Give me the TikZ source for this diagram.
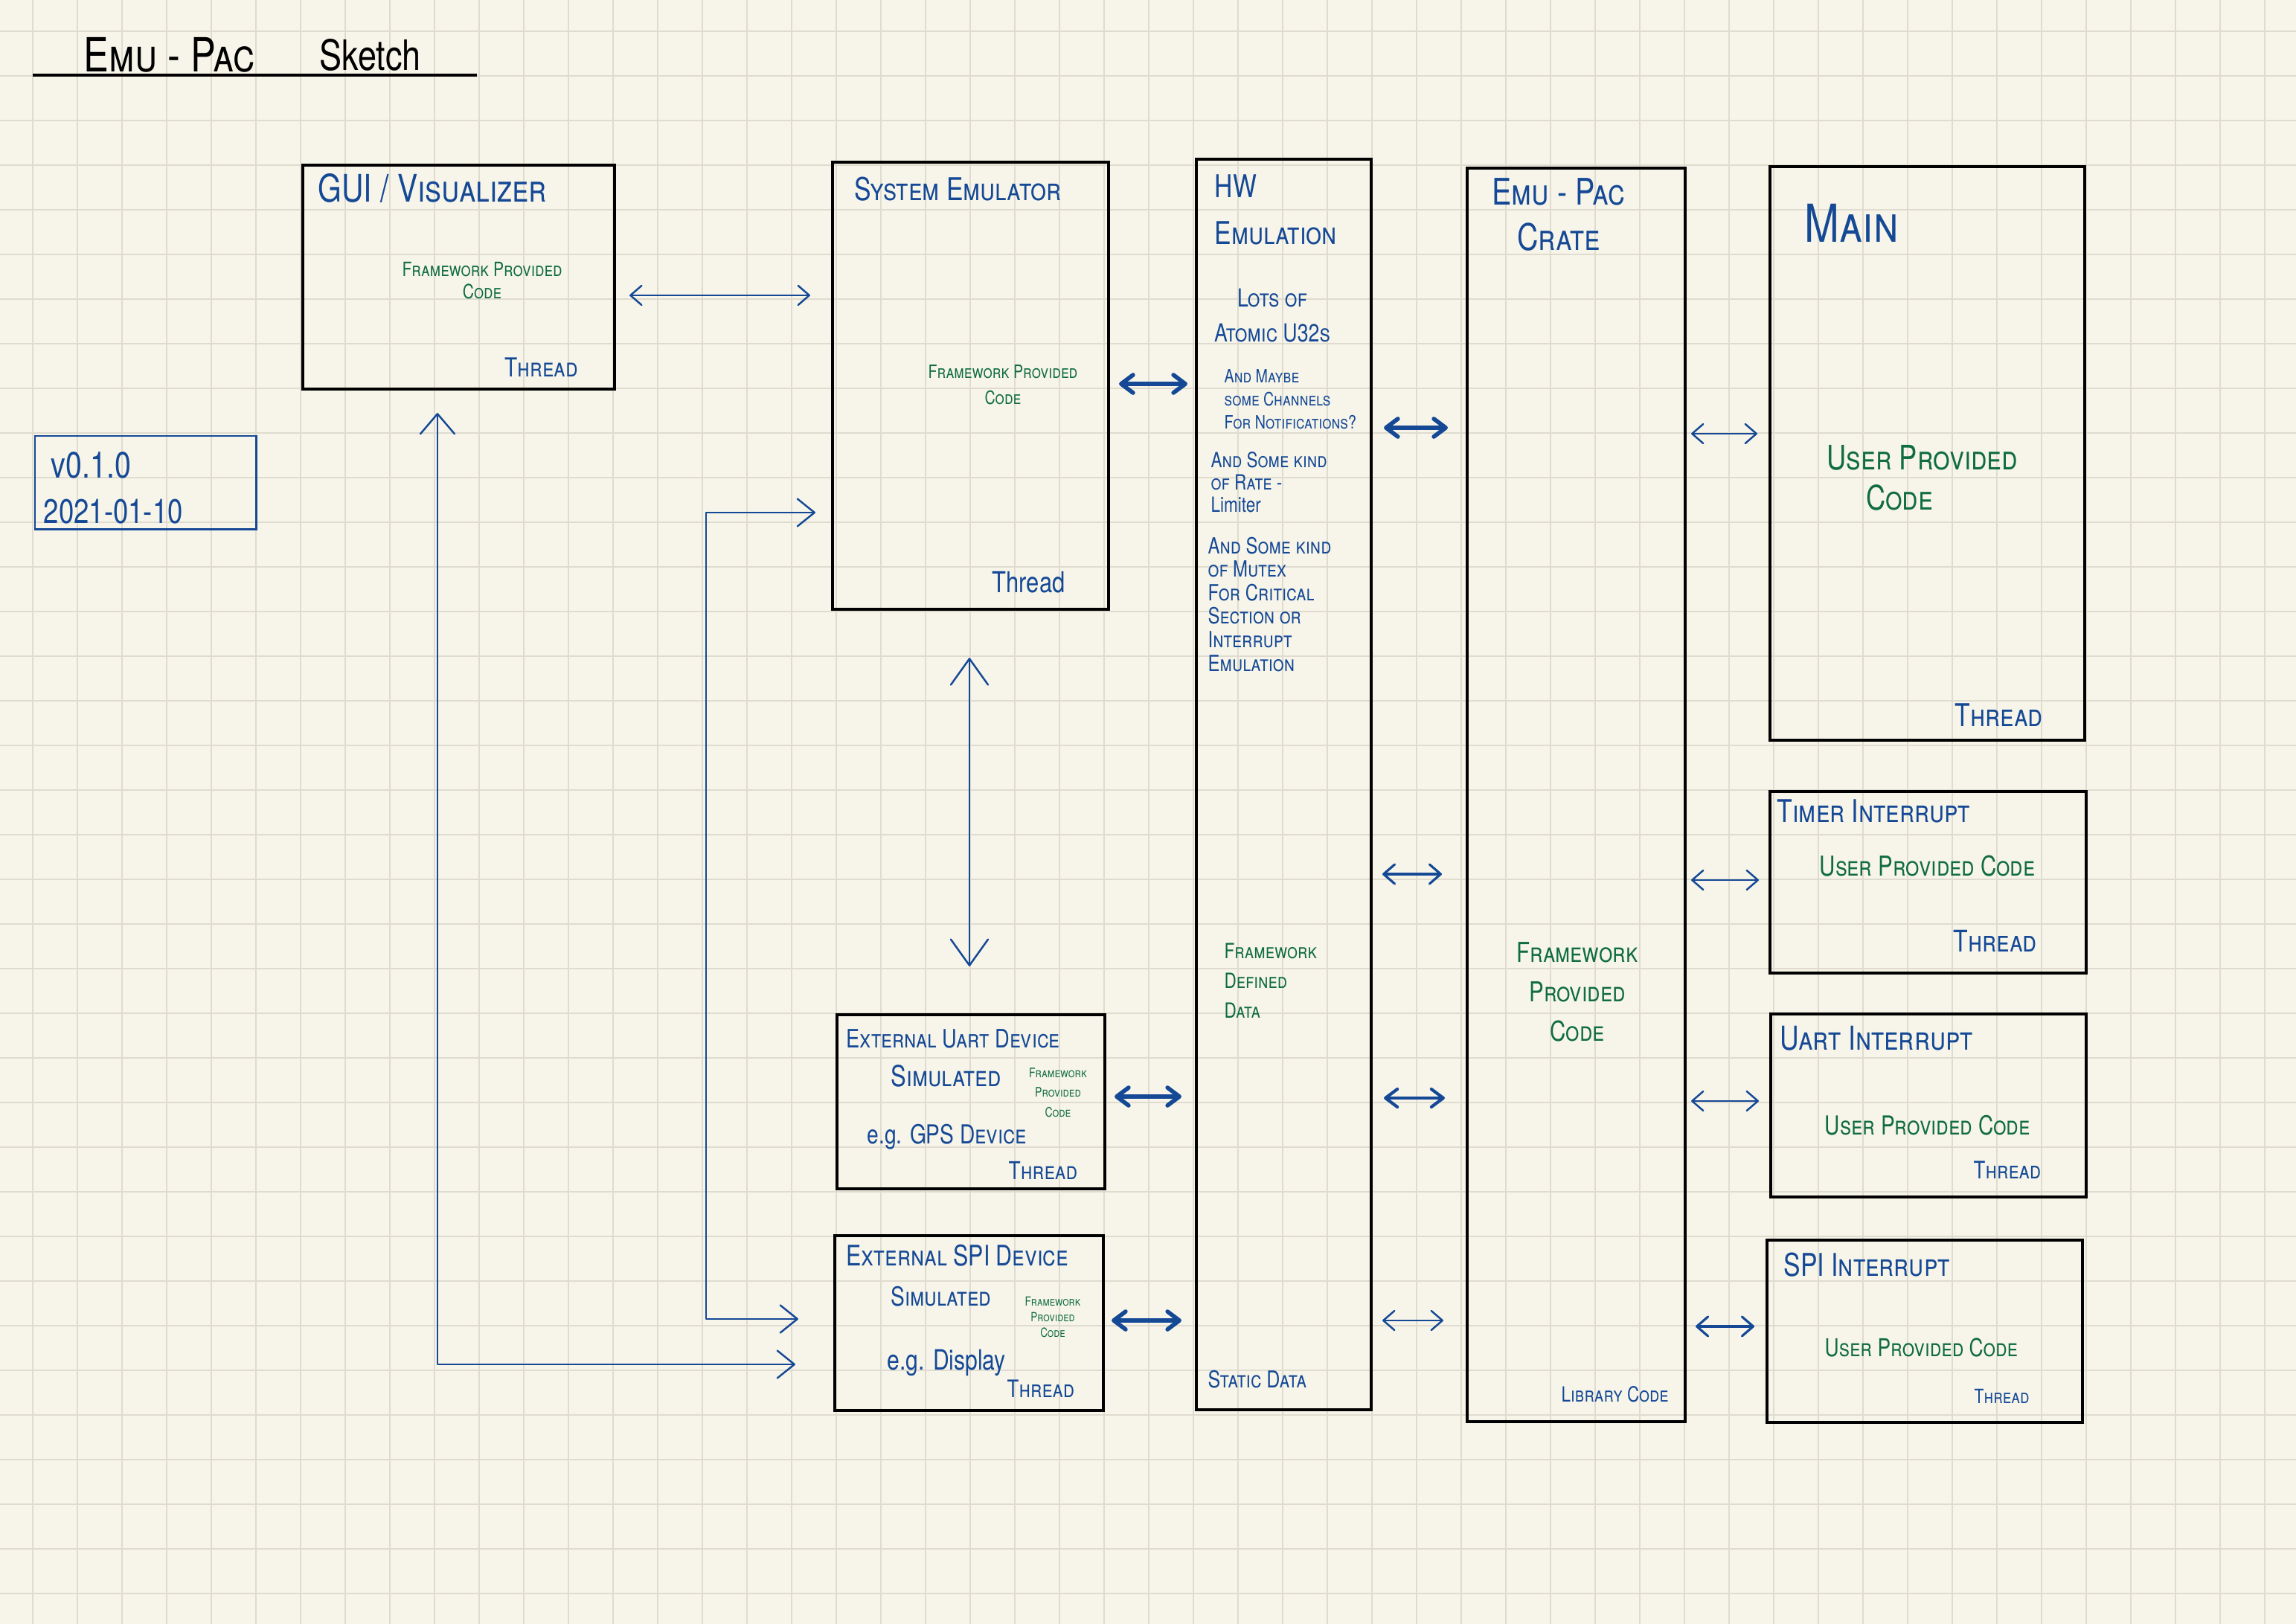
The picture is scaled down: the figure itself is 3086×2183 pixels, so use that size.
\documentclass[tikz,border=0pt]{standalone}
\usepackage{fontspec}
\newfontfamily\handfont{TeX Gyre Heros}[FakeStretch=0.8]
\usetikzlibrary{arrows.meta}
\definecolor{paper}{RGB}{247,245,233}
\definecolor{gridline}{RGB}{223,220,207}
\definecolor{inkblue}{RGB}{21,73,150}
\definecolor{inkgreen}{RGB}{16,108,66}
\newcommand{\inkfont}[2]{\handfont\scshape\fontsize{#1}{#2}\selectfont}
\newcommand{\plainink}[2]{\handfont\fontsize{#1}{#2}\selectfont}

\begin{document}
\begin{tikzpicture}[
    x=0.01cm, y=-0.01cm,
    box/.style={draw=black, line width=1.1pt, anchor=north west, inner sep=0pt},
    ink/.style={text=inkblue, anchor=north west, inner sep=0pt, align=left},
    fw/.style={text=inkgreen, anchor=north, inner sep=0pt, align=center},
    link/.style={draw=inkblue, line width=0.7pt, line cap=round, line join=round,
                 {Straight Barb[round, length=1.5mm, width=2.6mm]}-{Straight Barb[round, length=1.5mm, width=2.6mm]}},
    heavy/.style={link, line width=1.6pt,
                 {Straight Barb[round, length=1.6mm, width=2.4mm]}-{Straight Barb[round, length=1.6mm, width=2.4mm]}},
  ]
  % paper
  \useasboundingbox (0,0) rectangle (3086,2183);
  \fill[paper] (0,0) rectangle (3086,2183);
  \foreach \gx in {44,104,...,3044}
    \draw[gridline, line width=0.5pt] (\gx,0) -- (\gx,2183);
  \foreach \gy in {42,102,...,2142}
    \draw[gridline, line width=0.5pt] (0,\gy) -- (3086,\gy);

  % title and version
  \node[ink, text=black, font=\inkfont{18}{20}] (title) at (112,50) {Emu - Pac};
  \node[ink, text=black, font=\plainink{16}{20}] (sketch) at (429,52) {Sketch};
  \draw[black, line width=0.9pt] (44,101) -- (641,101);
  \node[box, draw=inkblue, line width=0.7pt, minimum width=2.97cm, minimum height=1.25cm] (version) at (46,585) {};
  \node[ink, font=\plainink{14}{17}] (vernum) at (68,607) {v0.1.0};
  \node[ink, font=\plainink{13}{16}] (verdate) at (58,670) {2021-01-10};

  % boxes
  \node[box, minimum width=4.19cm, minimum height=3.01cm] (gui) at (405,220) {};
  \node[box, minimum width=3.71cm, minimum height=6.01cm] (sysemu) at (1117,216) {};
  \node[box, minimum width=2.35cm, minimum height=16.8cm] (hw) at (1606,212) {};
  \node[box, minimum width=2.93cm, minimum height=16.84cm] (crate) at (1970,224) {};
  \node[box, minimum width=4.23cm, minimum height=7.71cm] (main) at (2377,222) {};
  \node[box, minimum width=4.25cm, minimum height=2.44cm] (timer) at (2377,1062) {};
  \node[box, minimum width=4.24cm, minimum height=2.46cm] (uart) at (2378,1361) {};
  \node[box, minimum width=4.24cm, minimum height=2.45cm] (spiint) at (2373,1665) {};
  \node[box, minimum width=3.60cm, minimum height=2.34cm] (extuart) at (1123,1362) {};
  \node[box, minimum width=3.61cm, minimum height=2.35cm] (extspi) at (1120,1659) {};

  % GUI
  \node[ink, font=\inkfont{14.5}{17}] (guiname) at (427,233) {GUI / Visualizer};
  \node[fw, font=\inkfont{7.5}{8.3}] (guifw) at (648,352) {Framework Provided\\Code};
  \node[ink, font=\inkfont{10}{12}] (guithr) at (678,480) {Thread};

  % system emulator
  \node[ink, font=\inkfont{12}{14}] (semname) at (1148,237) {System Emulator};
  \node[fw, font=\inkfont{7}{10}] (semfw) at (1348,490) {Framework Provided\\Code};
  \node[ink, font=\plainink{11}{13}] (semthr) at (1333,768) {Thread};

  % HW emulation
  \node[ink, font=\inkfont{12}{18}] (hwname) at (1632,234) {HW\\Emulation};
  \node[fw, text=inkblue, font=\inkfont{9.5}{13.4}] (hwatom) at (1710,387) {Lots of\\Atomic U32s};
  \node[ink, font=\inkfont{7}{8.8}] (hwchan) at (1645,496) {And Maybe\\some Channels\\For Notifications?};
  \node[ink, font=\inkfont{8}{8.5}] (hwrate) at (1627,607) {And Some kind\\of Rate -\\{\upshape Limiter}};
  \node[ink, font=\inkfont{8.5}{9}] (hwmutex) at (1623,721) {And Some kind\\of Mutex\\For Critical\\Section or\\Interrupt\\Emulation};
  \node[ink, text=inkgreen, font=\inkfont{8}{11.4}] (hwdata) at (1645,1267) {Framework\\Defined\\Data};
  \node[ink, font=\inkfont{8.9}{10}] (hwstatic) at (1623,1841) {Static Data};

  % emu-pac crate
  \node[fw, text=inkblue, font=\inkfont{14}{17.4}] (cratename) at (2095,239) {Emu - Pac\\Crate};
  \node[fw, font=\inkfont{10.5}{15}] (cratefw) at (2120,1266) {Framework\\Provided\\Code};
  \node[ink, font=\inkfont{8}{10}] (cratelib) at (2098,1863) {Library Code};

  % main and interrupts
  \node[ink, font=\inkfont{20}{24}] (mainname) at (2425,274) {Main};
  \node[ink, text=inkgreen, font=\inkfont{12.9}{15.4}] (mainuser) at (2455,598) {User Provided\\\hspace*{15pt}Code};
  \node[ink, font=\inkfont{12}{14}] (mainthr) at (2627,945) {Thread};
  \node[ink, font=\inkfont{12}{14}] (timername) at (2388,1074) {Timer Interrupt};
  \node[ink, text=inkgreen, font=\inkfont{10.5}{12}] (timeruser) at (2445,1149) {User Provided Code};
  \node[ink, font=\inkfont{11.4}{13}] (timerthr) at (2625,1250) {Thread};
  \node[ink, font=\inkfont{12.6}{14}] (uartname) at (2392,1379) {Uart Interrupt};
  \node[ink, text=inkgreen, font=\inkfont{10}{12}] (uartuser) at (2452,1499) {User Provided Code};
  \node[ink, font=\inkfont{9.2}{11}] (uartthr) at (2652,1560) {Thread};
  \node[ink, font=\inkfont{12}{14}] (spiname) at (2397,1683) {SPI Interrupt};
  \node[ink, text=inkgreen, font=\inkfont{9.4}{11}] (spiuser) at (2452,1798) {User Provided Code};
  \node[ink, font=\inkfont{7.5}{9}] (spithr) at (2653,1867) {Thread};

  % external devices
  \node[ink, font=\inkfont{9.7}{11}] (euname) at (1137,1383) {External Uart Device};
  \node[ink, font=\inkfont{11}{13}] (eusim) at (1197,1431) {Simulated};
  \node[fw, font=\inkfont{5}{7.5}] (eufw) at (1422,1435) {Framework\\Provided\\Code};
  \node[ink, font=\inkfont{10}{12}] (eueg) at (1165,1511) {{\upshape e.g.} GPS Device};
  \node[ink, font=\inkfont{9.4}{11}] (euthr) at (1355,1561) {Thread};
  \node[ink, font=\inkfont{10.8}{13}] (esname) at (1137,1672) {External SPI Device};
  \node[ink, font=\inkfont{10}{12}] (essim) at (1197,1729) {Simulated};
  \node[fw, font=\inkfont{4.8}{6}] (esfw) at (1415,1742) {Framework\\Provided\\Code};
  \node[ink, font=\plainink{10.7}{12}] (eseg) at (1192,1813) {e.g. Display};
  \node[ink, font=\inkfont{9.2}{11}] (esthr) at (1353,1854) {Thread};

  % connectors
  \draw[link, shorten <=0.18cm, shorten >=0.28cm] (gui.east |- 0,397) -- (sysemu.west |- 0,397);
  \draw[heavy, shorten <=0.12cm, shorten >=0.10cm] (sysemu.east |- 0,516) -- (hw.west |- 0,516);
  \draw[heavy, shorten <=0.15cm, shorten >=0.24cm] (hw.east |- 0,575) -- (crate.west |- 0,575);
  \draw[link, line width=0.9pt, shorten <=0.13cm, shorten >=0.32cm] (hw.east |- 0,1175) -- (crate.west |- 0,1175);
  \draw[heavy, line width=1.2pt, shorten <=0.15cm, shorten >=0.28cm] (hw.east |- 0,1476) -- (crate.west |- 0,1476);
  \draw[link, shorten <=0.13cm, shorten >=0.30cm] (hw.east |- 0,1775) -- (crate.west |- 0,1775);
  \draw[link, shorten <=0.06cm, shorten >=0.15cm] (crate.east |- 0,583) -- (main.west |- 0,583);
  \draw[link, shorten <=0.06cm, shorten >=0.13cm] (crate.east |- 0,1183) -- (timer.west |- 0,1183);
  \draw[link, shorten <=0.06cm, shorten >=0.14cm] (crate.east |- 0,1480) -- (uart.west |- 0,1480);
  \draw[link, line width=0.9pt, shorten <=0.12cm, shorten >=0.15cm] (crate.east |- 0,1783) -- (spiint.west |- 0,1783);
  \draw[heavy, shorten <=0.11cm, shorten >=0.18cm] (extuart.east |- 0,1474) -- (hw.west |- 0,1474);
  \draw[heavy, shorten <=0.09cm, shorten >=0.18cm] (extspi.east |- 0,1775) -- (hw.west |- 0,1775);
  \draw[link, shorten <=0.63cm, shorten >=0.63cm,
        {Straight Barb[round, length=3.5mm, width=5mm]}-{Straight Barb[round, length=3.5mm, width=5mm]}]
    (sysemu.south -| 1303,0) -- (extuart.north -| 1303,0);
  \draw[link, shorten <=0.30cm, shorten >=0.51cm,
        {Straight Barb[round, length=2.7mm, width=4.6mm]}-{Straight Barb[round, length=2.3mm, width=3.7mm]}]
    (gui.south -| 588,0) |- (extspi.west |- 0,1834);
  \draw[link, shorten <=0.21cm, shorten >=0.47cm,
        {Straight Barb[round, length=2.3mm, width=3.7mm]}-{Straight Barb[round, length=2.3mm, width=3.7mm]}]
    (sysemu.west |- 0,689) -| (949,1773) -- (extspi.west |- 0,1773);
\end{tikzpicture}
\end{document}
